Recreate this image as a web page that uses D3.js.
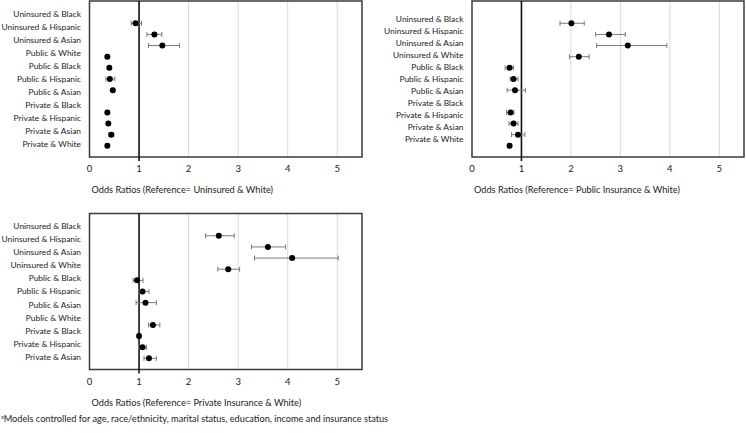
<!DOCTYPE html>
<html><head><meta charset="utf-8">
<script src="https://cdn.jsdelivr.net/npm/d3@7"></script>
<style>
body{margin:0;background:#fff;}
text{font-family:Lato,"Open Sans",sans-serif;fill:#222;}
</style></head>
<body><svg id="c" width="746" height="433"></svg>
<script>
// ---- data ----
const xTicks = [0, 1, 2, 3, 4, 5];

const labels1 = ["Uninsured & Black","Uninsured & Hispanic","Uninsured & Asian","Public & White","Public & Black","Public & Hispanic","Public & Asian","Private & Black","Private & Hispanic","Private & Asian","Private & White"];
const or1 = [null, 0.93, 1.31, 1.47, 0.36, 0.40, 0.41, 0.47, null, 0.36, 0.38, 0.44, 0.36];
const lo1 = [null, 0.84, 1.16, 1.19, 0.33, 0.37, 0.33, 0.44, null, 0.33, 0.35, 0.39, 0.33];
const hi1 = [null, 1.05, 1.46, 1.82, 0.39, 0.43, 0.51, 0.50, null, 0.39, 0.41, 0.49, 0.39];
const title1 = "Odds Ratios (Reference= Uninsured & White)";

const labels2 = ["Uninsured & Black","Uninsured & Hispanic","Uninsured & Asian","Uninsured & White","Public & Black","Public & Hispanic","Public & Asian","Private & Black","Private & Hispanic","Private & Asian","Private & White"];
const or2 = [null, 2.01, 2.77, 3.15, 2.16, 0.76, 0.84, 0.87, null, 0.78, 0.84, 0.93, 0.76];
const lo2 = [null, 1.78, 2.50, 2.52, 1.97, 0.67, 0.77, 0.71, null, 0.70, 0.75, 0.80, 0.72];
const hi2 = [null, 2.27, 3.10, 3.94, 2.37, 0.84, 0.93, 1.08, null, 0.85, 0.93, 1.07, 0.80];
const title2 = "Odds Ratios (Reference= Public Insurance & White)";

const labels3 = ["Uninsured & Black","Uninsured & Hispanic","Uninsured & Asian","Uninsured & White","Public & Black","Public & Hispanic","Public & Asian","Public & White","Private & Black","Private & Hispanic","Private & Asian"];
const or3 = [null, 2.61, 3.60, 4.09, 2.80, 0.96, 1.07, 1.13, null, 1.28, 1.00, 1.07, 1.20];
const lo3 = [null, 2.34, 3.27, 3.33, 2.59, 0.88, 1.00, 0.94, null, 1.19, 0.97, 0.99, 1.10];
const hi3 = [null, 2.92, 3.96, 5.02, 3.03, 1.08, 1.20, 1.35, null, 1.42, 1.03, 1.15, 1.35];
const title3 = "Odds Ratios (Reference= Private Insurance & White)";

const footnote = "Models controlled for age, race/ethnicity, marital status, education, income and insurance status";

// ---- drawing ----
const svg = d3.select("#c");

function panel(cfg){
  const g = svg.append("g");
  const x = d3.scaleLinear().domain([0, 5.5]).range([cfg.left, cfg.right]);
  const slots = d3.range(cfg.or.length);
  const y = d3.scalePoint().domain(slots).range([cfg.top, cfg.bottom]).padding(1);
  const yl = d3.scalePoint().domain(cfg.labels).range([cfg.top, cfg.bottom]).padding(cfg.labelPad);

  g.selectAll("line.grid").data(xTicks.filter(t => t > 1)).join("line")
    .attr("x1", d => x(d)).attr("x2", d => x(d))
    .attr("y1", cfg.top).attr("y2", cfg.bottom)
    .attr("stroke", "#d9d9d9").attr("stroke-width", 1);

  g.append("rect").attr("x", cfg.left).attr("y", cfg.top)
    .attr("width", cfg.right - cfg.left).attr("height", cfg.bottom - cfg.top)
    .attr("fill", "none").attr("stroke", "#3a3a3a").attr("stroke-width", 1.5);

  g.append("line").attr("x1", x(1)).attr("x2", x(1))
    .attr("y1", cfg.top).attr("y2", cfg.bottom + 4)
    .attr("stroke", "#111").attr("stroke-width", 1.6);

  g.selectAll("text.tick").data(xTicks).join("text")
    .attr("x", d => x(d)).attr("y", cfg.bottom + 15)
    .attr("text-anchor", "middle").attr("font-size", 9.5)
    .text(d => d);

  g.append("text").attr("x", cfg.left + 2).attr("y", cfg.bottom + 36)
    .attr("font-size", 9.2).text(cfg.title);

  g.selectAll("text.lab").data(cfg.labels).join("text")
    .attr("x", cfg.labelRight).attr("y", d => yl(d)).attr("dy", "0.35em")
    .attr("text-anchor", "end").attr("font-size", 8.4)
    .text(d => d);

  const pts = slots.filter(i => cfg.or[i] != null);
  const eb = g.selectAll("g.eb").data(pts).join("g").attr("stroke", "#7a7a7a").attr("stroke-width", 1);
  eb.append("line").attr("x1", i => x(cfg.lo[i])).attr("x2", i => x(cfg.hi[i]))
    .attr("y1", i => y(i)).attr("y2", i => y(i));
  eb.append("line").attr("x1", i => x(cfg.lo[i])).attr("x2", i => x(cfg.lo[i]))
    .attr("y1", i => y(i) - 2.5).attr("y2", i => y(i) + 2.5);
  eb.append("line").attr("x1", i => x(cfg.hi[i])).attr("x2", i => x(cfg.hi[i]))
    .attr("y1", i => y(i) - 2.5).attr("y2", i => y(i) + 2.5);
  g.selectAll("circle").data(pts).join("circle")
    .attr("cx", i => x(cfg.or[i])).attr("cy", i => y(i)).attr("r", 3)
    .attr("fill", "#000");
}

panel({left: 89.5, right: 362, top: 1, bottom: 157, labelRight: 81, labelPad: 1,
  labels: labels1, or: or1, lo: lo1, hi: hi1, title: title1});
panel({left: 472, right: 744, top: 1, bottom: 157, labelRight: 463.5, labelPad: 1.5,
  labels: labels2, or: or2, lo: lo2, hi: hi2, title: title2});
panel({left: 89.5, right: 362, top: 213.5, bottom: 369.5, labelRight: 81, labelPad: 0.95,
  labels: labels3, or: or3, lo: lo3, hi: hi3, title: title3});

const fn = svg.append("text").attr("x", 1).attr("y", 422).attr("font-size", 9.2);
fn.append("tspan").attr("font-size", 5.5).attr("dy", -3).text("a");
fn.append("tspan").attr("dy", 3).text(footnote);
</script></body></html>
